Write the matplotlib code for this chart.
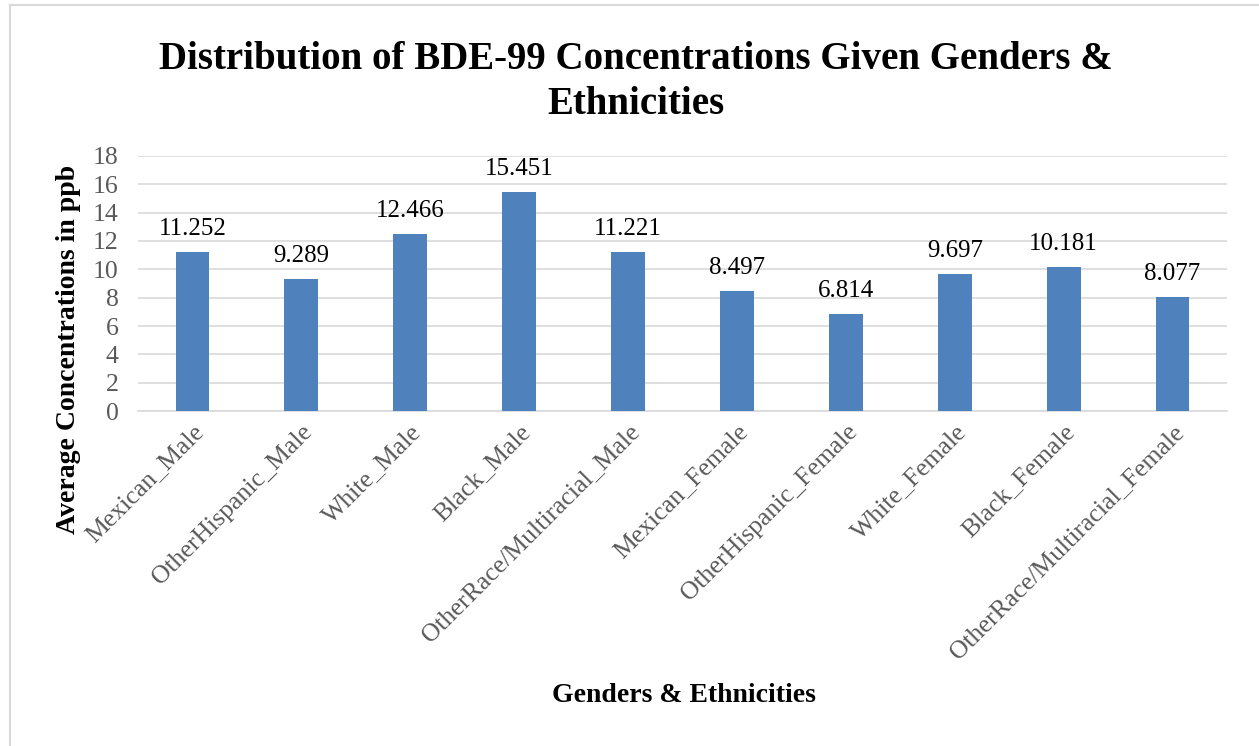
import matplotlib.pyplot as plt
from matplotlib.lines import Line2D

categories = ["Mexican_Male", "OtherHispanic_Male", "White_Male", "Black_Male",
              "OtherRace/Multiracial_Male", "Mexican_Female", "OtherHispanic_Female",
              "White_Female", "Black_Female", "OtherRace/Multiracial_Female"]
values = [11.252, 9.289, 12.466, 15.451, 11.221, 8.497, 6.814, 9.697, 10.181, 8.077]
labels = ["11.252", "9.289", "12.466", "15.451", "11.221", "8.497", "6.814",
          "9.697", "10.181", "8.077"]

plt.rcParams['font.family'] = ['Liberation Serif', 'DejaVu Serif']

fig = plt.figure(figsize=(12.59, 7.46), dpi=100)
ax = fig.add_axes([0.1096, 0.449, 0.865, 0.342])

x = list(range(len(categories)))
bars = ax.bar(x, values, width=0.31, color="#4F81BD", zorder=3)
for b, lab in zip(bars, labels):
    ax.text(b.get_x() + b.get_width() / 2, b.get_height() + 0.85, lab,
            ha="center", va="bottom", fontsize=18, color="black")

ax.set_xlim(-0.5, len(categories) - 0.5)
ax.set_ylim(0, 18)
ax.set_yticks(range(0, 19, 2))
ax.yaxis.grid(True, color="#D9D9D9", linewidth=1.2, zorder=0)
for s in ["top", "right", "left"]:
    ax.spines[s].set_visible(False)
ax.spines["bottom"].set_color("#D9D9D9")
ax.spines["bottom"].set_linewidth(1.2)
ax.tick_params(axis="both", length=0, labelsize=18.5, labelcolor="#595959")
ax.tick_params(axis="x", pad=7)
ax.tick_params(axis="y", pad=14)
ax.set_xticks(x)
ax.set_xticklabels(categories, rotation=45, ha="right", rotation_mode="anchor")

ax.set_ylabel("Average Concentrations in ppb", fontsize=20, fontweight="bold")
ax.yaxis.set_label_coords(-0.052, 0.24)
fig.text(0.543, 0.068, "Genders & Ethnicities", ha="center", va="center",
         fontsize=20, fontweight="bold")
fig.text(0.505, 0.89, "Distribution of BDE-99 Concentrations Given Genders &\nEthnicities",
         ha="center", va="center", fontsize=28, fontweight="bold", linespacing=1.3)

# outer chart border
fig.add_artist(Line2D([10 / 1259, 10 / 1259], [0, 1 - 5 / 746], color="#D9D9D9", lw=1.5))
fig.add_artist(Line2D([10 / 1259, 1], [1 - 5 / 746, 1 - 5 / 746], color="#D9D9D9", lw=1.5))

fig.savefig("out.png", dpi=100)
